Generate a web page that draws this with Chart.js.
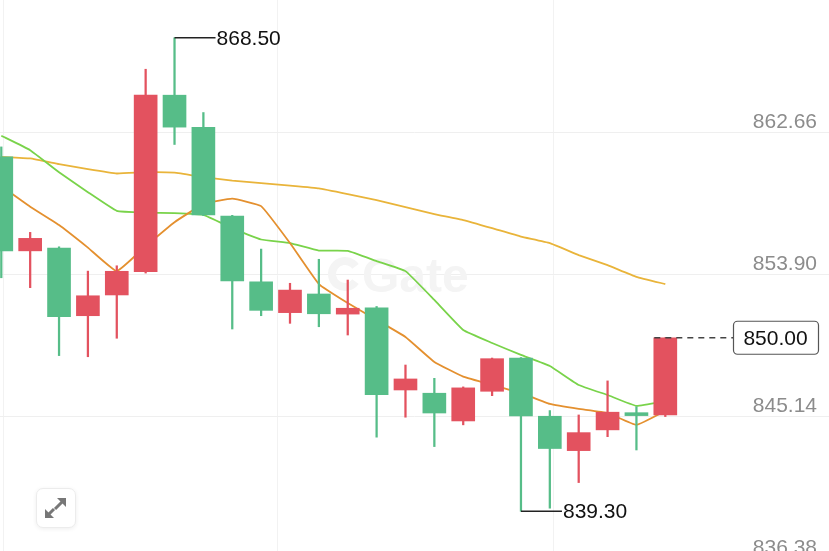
<!DOCTYPE html>
<html lang="en">
<head>
    <meta charset="UTF-8">
    <meta name="viewport" content="width=device-width, initial-scale=1.0">
    <title>Candlestick Chart</title>
    <script src="https://cdn.jsdelivr.net/npm/chart.js"></script>
    <style>
        html, body { margin: 0; padding: 0; background: #fff; }
        #wrap { position: relative; width: 829px; height: 551px; overflow: hidden; }
        #expand {
            position: absolute; left: 36px; top: 488px; width: 40px; height: 40px;
            box-sizing: border-box; border: 1px solid #ececec; border-radius: 7px;
            background: #fff; box-shadow: 0 1px 4px rgba(0, 0, 0, 0.07);
        }
    </style>
</head>
<body>
<div id="wrap">
    <canvas id="kline" width="829" height="551"></canvas>
    <div id="expand">
        <svg width="38" height="38" viewBox="0 0 38 38">
            <path d="M20 9 H29 V18 Z" fill="#777"/>
            <line x1="18" y1="20" x2="25" y2="13" stroke="#777" stroke-width="3"/>
            <path d="M8 20 V29 H17 Z" fill="#777"/>
            <line x1="12" y1="25" x2="17" y2="20" stroke="#777" stroke-width="3"/>
        </svg>
    </div>
</div>

<script>
    // OHLC per candle (red = close above open, green = close below open)
    const opens  = [861.16, 855.36, 855.53, 851.36, 852.64, 854.07, 864.96, 862.97, 857.50, 853.45, 851.55, 852.70,
                    851.46, 851.85, 846.78, 846.58, 844.87, 846.70, 848.75, 845.16, 843.04, 844.32, 845.38, 845.24];
    const highs  = [861.77, 856.50, 855.61, 854.11, 854.44, 866.56, 868.50, 863.89, 857.55, 855.47, 853.36, 854.84,
                    853.56, 851.93, 848.32, 847.50, 846.97, 848.75, 848.78, 845.51, 845.24, 847.34, 845.75, 850.00];
    const lows   = [853.70, 853.09, 848.90, 848.83, 849.97, 853.99, 861.92, 857.53, 850.54, 851.36, 850.89, 850.68,
                    850.17, 843.87, 845.10, 843.29, 844.63, 846.43, 839.30, 839.49, 841.07, 843.90, 843.08, 845.14];
    const closes = [855.36, 856.13, 851.30, 852.59, 854.10, 864.96, 862.99, 857.58, 853.50, 851.69, 852.94, 851.48,
                    851.82, 846.49, 847.46, 845.36, 846.91, 848.71, 845.18, 843.17, 844.15, 845.41, 845.20, 850.00];

    // moving averages
    const ma5  = [859.35, 858.08, 856.95, 855.56, 854.11, 855.65, 857.13, 858.24, 858.58, 858.12, 855.84, 853.31,
                  852.14, 851.10, 850.05, 848.51, 847.60, 847.09, 846.60, 845.92, 845.61, 845.36, 844.63, 845.49];
    const ma10 = [862.46, 861.57, 860.21, 858.98, 857.83, 857.72, 857.69, 857.58, 856.76, 856.06, 855.84, 855.38,
                  855.36, 854.73, 854.11, 852.33, 850.48, 849.68, 848.94, 848.26, 847.09, 846.47, 845.80, 846.10];
    const ma30 = [861.16, 861.06, 860.71, 860.40, 860.13, 860.21, 860.18, 859.91, 859.69, 859.54, 859.38, 859.21,
                  858.86, 858.49, 858.06, 857.63, 857.26, 856.76, 856.24, 855.84, 855.10, 854.48, 853.76, 853.31];

    // price axis labels
    const priceTicks = [836.38, 845.14, 853.90, 862.66];

    const UP = '#e3525f';
    const DOWN = '#56bd88';
    const candleColors = opens.map((o, i) => closes[i] >= o ? UP : DOWN);
    const FONT = 'Liberation Sans';

    // no padding around the plot, the axes are drawn inside it
    const noPad = axis => {
        axis.paddingTop = 0; axis.paddingBottom = 0;
        axis.paddingLeft = 0; axis.paddingRight = 0;
        if (axis.isHorizontal()) axis.height = 0; else axis.width = 0;
    };

    // faint logo behind the candles
    const watermark = {
        id: 'watermark',
        beforeDatasetsDraw(chart) {
            const ctx = chart.ctx;
            ctx.save();
            ctx.strokeStyle = '#f4f4f4';
            ctx.lineWidth = 8;
            ctx.beginPath();
            ctx.arc(345, 274, 13, Math.PI * 0.2, Math.PI * 1.8);
            ctx.stroke();
            ctx.fillStyle = '#f4f4f4';
            ctx.font = 'bold 48px ' + FONT;
            ctx.textBaseline = 'alphabetic';
            ctx.fillText('Gate', 362, 292);
            ctx.restore();
        }
    };

    // high / low markers and last price tag
    const markers = {
        id: 'markers',
        afterDatasetsDraw(chart) {
            const ctx = chart.ctx;
            const xs = chart.scales.x, ys = chart.scales.y;
            ctx.save();
            ctx.font = '21px ' + FONT;
            ctx.textBaseline = 'middle';
            ctx.textAlign = 'left';
            ctx.strokeStyle = '#222';
            ctx.fillStyle = '#111';
            ctx.lineWidth = 1.5;

            const hi = highs.indexOf(Math.max(...highs));
            let px = xs.getPixelForValue(hi), py = ys.getPixelForValue(highs[hi]);
            ctx.beginPath(); ctx.moveTo(px, py); ctx.lineTo(px + 41, py); ctx.stroke();
            ctx.fillText(highs[hi].toFixed(2), px + 42, py + 1);

            const lo = lows.indexOf(Math.min(...lows));
            px = xs.getPixelForValue(lo); py = ys.getPixelForValue(lows[lo]);
            ctx.beginPath(); ctx.moveTo(px, py); ctx.lineTo(px + 41, py); ctx.stroke();
            ctx.fillText(lows[lo].toFixed(2), px + 42, py + 1);

            const last = closes.length - 1;
            px = xs.getPixelForValue(last) - 11;
            py = ys.getPixelForValue(closes[last]);
            const bw = 85, bh = 33;
            const bx = chart.chartArea.right - 11 - bw;
            ctx.strokeStyle = '#444';
            ctx.lineWidth = 1.4;
            ctx.setLineDash([6, 5]);
            ctx.beginPath(); ctx.moveTo(px, py); ctx.lineTo(bx, py); ctx.stroke();
            ctx.setLineDash([]);
            ctx.strokeStyle = '#555';
            ctx.lineWidth = 1.2;
            ctx.fillStyle = '#fff';
            ctx.beginPath();
            ctx.roundRect(bx + 0.5, py - bh / 2, bw, bh, 4);
            ctx.fill(); ctx.stroke();
            ctx.fillStyle = '#111';
            ctx.textAlign = 'center';
            ctx.fillText(closes[last].toFixed(2), bx + bw / 2, py + 1);
            ctx.restore();
        }
    };

    const ctx = document.getElementById('kline').getContext('2d');
    new Chart(ctx, {
        type: 'bar',
        data: {
            datasets: [
                {
                    label: 'body',
                    data: opens.map((o, i) => ({ x: i, y: [o, closes[i]] })),
                    backgroundColor: candleColors,
                    barThickness: 23,
                    grouped: false,
                    borderSkipped: false,
                    order: 0
                },
                {
                    label: 'wick',
                    data: lows.map((l, i) => ({ x: i, y: [l, highs[i]] })),
                    backgroundColor: candleColors,
                    barThickness: 1.6,
                    grouped: false,
                    borderSkipped: false,
                    order: 1
                },
                {
                    type: 'line', label: 'MA5',
                    data: ma5.map((v, i) => ({ x: i, y: v })),
                    borderColor: '#e4902f', borderWidth: 1.8, pointRadius: 0, tension: 0.1, order: 2
                },
                {
                    type: 'line', label: 'MA10',
                    data: ma10.map((v, i) => ({ x: i, y: v })),
                    borderColor: '#79d34a', borderWidth: 1.8, pointRadius: 0, tension: 0.1, order: 2
                },
                {
                    type: 'line', label: 'MA30',
                    data: ma30.map((v, i) => ({ x: i, y: v })),
                    borderColor: '#e9b43a', borderWidth: 1.8, pointRadius: 0, tension: 0.1, order: 2
                }
            ]
        },
        options: {
            responsive: false,
            animation: false,
            layout: { padding: 0 },
            plugins: { legend: { display: false }, tooltip: { enabled: false } },
            scales: {
                x: {
                    type: 'linear',
                    offset: false,
                    min: -0.045,
                    max: 28.67,
                    afterFit: noPad,
                    afterBuildTicks: axis => { axis.ticks = [0.06, 9.55, 19.11].map(v => ({ value: v })); },
                    grid: { color: '#f2f2f2', drawTicks: false, offset: false },
                    border: { display: false },
                    ticks: { display: false }
                },
                y: {
                    position: 'right',
                    min: 836.85,
                    max: 870.83,
                    afterFit: noPad,
                    afterBuildTicks: axis => { axis.ticks = priceTicks.map(v => ({ value: v })); },
                    grid: { color: '#efefef', drawTicks: false },
                    border: { display: false },
                    ticks: {
                        mirror: true,
                        padding: -12,
                        labelOffset: -10,
                        color: '#8c8c8c',
                        font: { size: 21, family: FONT },
                        callback: v => Number(v).toFixed(2)
                    }
                }
            }
        },
        plugins: [watermark, markers]
    });
</script>
</body>
</html>
